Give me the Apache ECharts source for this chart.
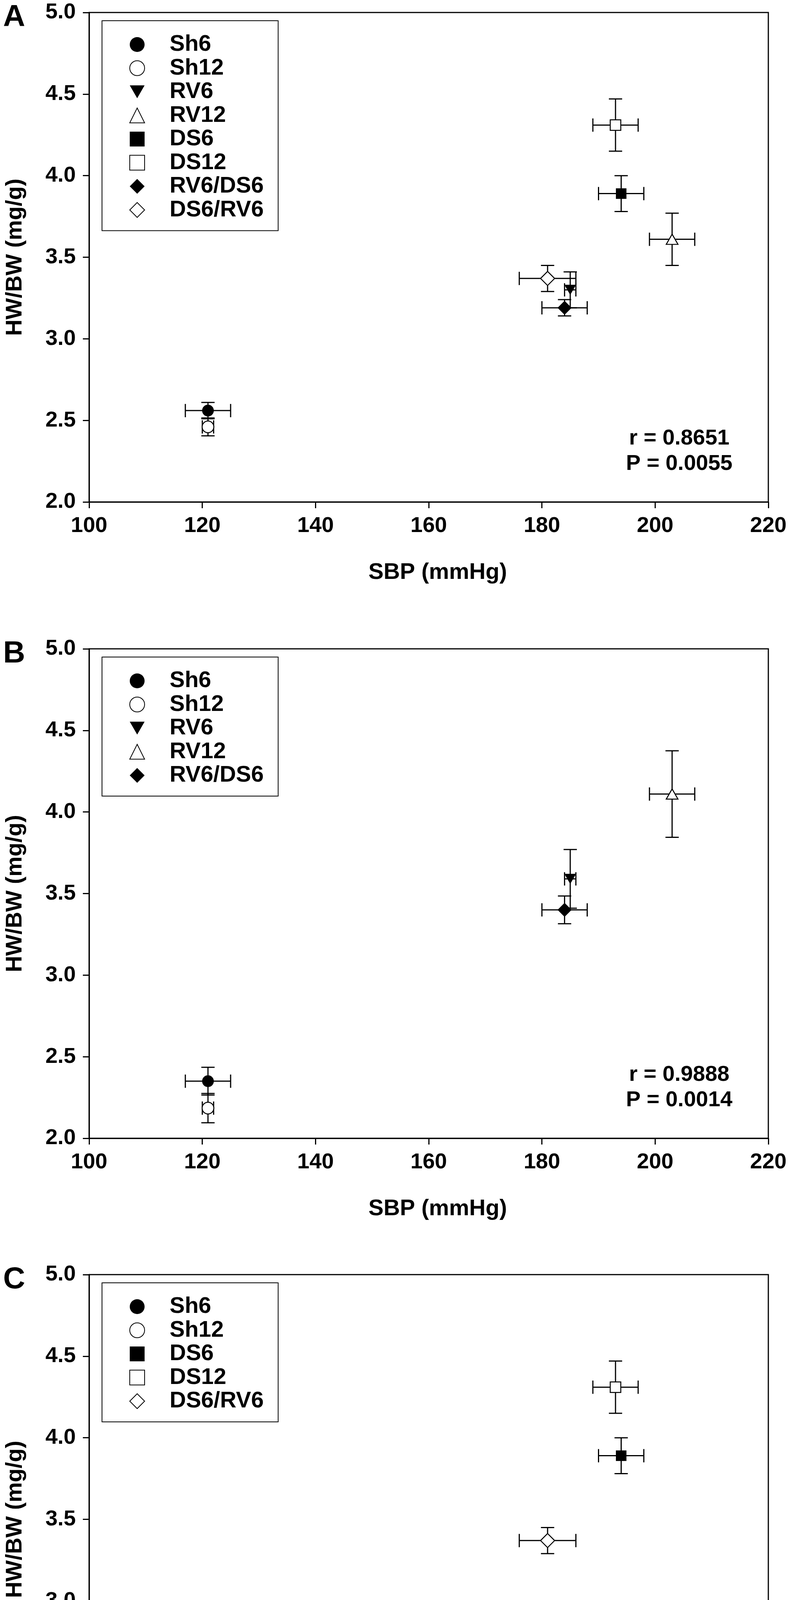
<!DOCTYPE html>
<html>
<head>
<meta charset="utf-8">
<script src="https://cdn.jsdelivr.net/npm/echarts@6/dist/echarts.min.js"></script>
<style>
  html, body { margin: 0; padding: 0; background: #fff; }
  #chart { width: 2024px; height: 4741px; }
</style>
</head>
<body>
<div id="chart"></div>
<script>
// groups shown in each panel
var panelA_groups = ['Sh6', 'Sh12', 'RV6', 'RV12', 'DS6', 'DS12', 'RV6/DS6', 'DS6/RV6'];
var panelA_sbp     = [121, 121, 185, 203, 194, 193, 184, 181];
var panelA_sbpErr  = [4, 1, 1, 4, 4, 4, 4, 5];
var panelA_hwbw    = [2.56, 2.46, 3.30, 3.61, 3.89, 4.31, 3.19, 3.37];
var panelA_hwbwErr = [0.05, 0.055, 0.11, 0.16, 0.11, 0.16, 0.05, 0.08];

var panelB_groups = ['Sh6', 'Sh12', 'RV6', 'RV12', 'RV6/DS6'];
var panelB_sbp     = [121, 121, 185, 203, 184];
var panelB_sbpErr  = [4, 1, 1, 4, 4];
var panelB_hwbw    = [2.35, 2.185, 3.59, 4.11, 3.40];
var panelB_hwbwErr = [0.085, 0.09, 0.18, 0.265, 0.085];

var panelC_groups = ['Sh6', 'Sh12', 'DS6', 'DS12', 'DS6/RV6'];
var panelC_sbp     = [121, 121, 194, 193, 181];
var panelC_sbpErr  = [4, 1, 4, 4, 5];
var panelC_hwbw    = [2.56, 2.46, 3.89, 4.31, 3.37];
var panelC_hwbwErr = [0.05, 0.055, 0.11, 0.16, 0.08];

var panelLetters = ['A', 'B', 'C'];
var statR = ['0.8651', '0.9888', '0.9460'];
var statP = ['0.0055', '0.0014', '0.0148'];

var xTicks = [100, 120, 140, 160, 180, 200, 220];
var yTicks = [2.0, 2.5, 3.0, 3.5, 4.0, 4.5, 5.0];

var FONT = "'Liberation Sans', Arial, sans-serif";
var DOWN_TRIANGLE = 'path://M0,0L30,0L15,26Z';

// marker look per group
var markerStyle = {
	'Sh6':     { symbol: 'circle',      size: 30,       open: false },
	'Sh12':    { symbol: 'circle',      size: 30,       open: true },
	'RV6':     { symbol: DOWN_TRIANGLE, size: [30, 26], open: false },
	'RV12':    { symbol: 'triangle',    size: [30, 26], open: true },
	'DS6':     { symbol: 'rect',        size: 27,       open: false },
	'DS12':    { symbol: 'rect',        size: 27,       open: true },
	'RV6/DS6': { symbol: 'diamond',     size: 36,       open: false },
	'DS6/RV6': { symbol: 'diamond',     size: 36,       open: true }
};

var panels = [
	{ groups: panelA_groups, sbp: panelA_sbp, sbpErr: panelA_sbpErr, hwbw: panelA_hwbw, hwbwErr: panelA_hwbwErr, top: 32 },
	{ groups: panelB_groups, sbp: panelB_sbp, sbpErr: panelB_sbpErr, hwbw: panelB_hwbw, hwbwErr: panelB_hwbwErr, top: 1661 },
	{ groups: panelC_groups, sbp: panelC_sbp, sbpErr: panelC_sbpErr, hwbw: panelC_hwbw, hwbwErr: panelC_hwbwErr, top: 3263 }
];

var gridLeft = 228, gridWidth = 1738, gridHeight = 1253;

function renderErrorBar(params, api) {
	var x = api.value(0), xe = api.value(1), y = api.value(2), ye = api.value(3);
	var l = api.coord([x - xe, y]), r = api.coord([x + xe, y]);
	var t = api.coord([x, y + ye]), b = api.coord([x, y - ye]);
	var cap = 17;
	var st = { stroke: '#000', lineWidth: 3 };
	function seg(x1, y1, x2, y2) {
		return { type: 'line', shape: { x1: x1, y1: y1, x2: x2, y2: y2 }, style: st };
	}
	return {
		type: 'group',
		children: [
			seg(l[0], l[1], r[0], r[1]),
			seg(t[0], t[1], b[0], b[1]),
			seg(l[0], l[1] - cap, l[0], l[1] + cap),
			seg(r[0], r[1] - cap, r[0], r[1] + cap),
			seg(t[0] - cap, t[1], t[0] + cap, t[1]),
			seg(b[0] - cap, b[1], b[0] + cap, b[1])
		]
	};
}

var grids = [], xAxes = [], yAxes = [], series = [], legends = [], graphics = [];

panels.forEach(function(p, i) {
	grids.push({
		left: gridLeft, top: p.top, width: gridWidth, height: gridHeight,
		show: true, borderColor: '#000', borderWidth: 3, backgroundColor: 'transparent'
	});
	xAxes.push({
		gridIndex: i, type: 'value', min: xTicks[0], max: xTicks[xTicks.length - 1], interval: 20,
		name: 'SBP (mmHg)', nameLocation: 'middle', nameGap: 152,
		nameTextStyle: { fontFamily: FONT, fontWeight: 'bold', fontSize: 58, color: '#000', padding: [0, 0, 0, 46] },
		axisLine: { lineStyle: { color: '#000', width: 3 } },
		axisTick: { length: 16, lineStyle: { color: '#000', width: 3 } },
		axisLabel: { margin: 34, fontFamily: FONT, fontWeight: 'bold', fontSize: 56, color: '#000' },
		splitLine: { show: false }
	});
	yAxes.push({
		gridIndex: i, type: 'value', min: yTicks[0], max: yTicks[yTicks.length - 1], interval: 0.5,
		name: 'HW/BW (mg/g)', nameLocation: 'middle', nameGap: 160,
		nameTextStyle: { fontFamily: FONT, fontWeight: 'bold', fontSize: 58, color: '#000' },
		axisLine: { lineStyle: { color: '#000', width: 3 } },
		axisTick: { length: 16, lineStyle: { color: '#000', width: 3 } },
		axisLabel: {
			margin: 34, fontFamily: FONT, fontWeight: 'bold', fontSize: 56, color: '#000',
			formatter: function(v) { return v.toFixed(1); }
		},
		splitLine: { show: false }
	});

	// error bars
	var errData = p.groups.map(function(g, k) {
		return [p.sbp[k], p.sbpErr[k], p.hwbw[k], p.hwbwErr[k]];
	});
	series.push({
		type: 'custom', xAxisIndex: i, yAxisIndex: i, z: 2,
		renderItem: renderErrorBar, encode: { x: 0, y: 2 },
		data: errData, silent: true
	});

	// one scatter series per group so the legend shows it
	p.groups.forEach(function(g, k) {
		var m = markerStyle[g];
		series.push({
			name: g, type: 'scatter', xAxisIndex: i, yAxisIndex: i, z: 3,
			symbol: m.symbol, symbolSize: m.size,
			itemStyle: m.open
				? { color: '#fff', borderColor: '#000', borderWidth: 2.5, opacity: 1 }
				: { color: '#000', borderColor: '#000', borderWidth: 0, opacity: 1 },
			data: [[p.sbp[k], p.hwbw[k]]],
			silent: true
		});
	});

	legends.push({
		data: p.groups.map(function(g) {
			return g === 'RV6' ? { name: g, icon: DOWN_TRIANGLE } : { name: g };
		}),
		orient: 'vertical', left: 261, top: p.top + 21,
		selectedMode: false, borderColor: '#000', borderWidth: 2,
		padding: [31, 37, 23, 70], itemGap: 0.5, itemWidth: 38, itemHeight: 38,
		textStyle: { fontFamily: FONT, fontWeight: 'bold', fontSize: 58, color: '#000', lineHeight: 60, padding: [0, 0, 0, 59] }
	});

	var bottom = p.top + gridHeight;
	graphics.push({
		type: 'text', left: 8, top: p.top - 26,
		style: { text: panelLetters[i], font: 'bold 78px ' + FONT, fill: '#000' }
	});
	graphics.push({
		type: 'text', x: 1738, y: bottom - 162,
		style: { text: 'r = ' + statR[i], font: 'bold 56px ' + FONT, fill: '#000', textAlign: 'center', textVerticalAlign: 'middle' }
	});
	graphics.push({
		type: 'text', x: 1738, y: bottom - 97,
		style: { text: 'P = ' + statP[i], font: 'bold 56px ' + FONT, fill: '#000', textAlign: 'center', textVerticalAlign: 'middle' }
	});
});

var myChart = echarts.init(document.getElementById('chart'), null, { renderer: 'canvas' });
myChart.setOption({
	animation: false,
	backgroundColor: '#fff',
	grid: grids,
	xAxis: xAxes,
	yAxis: yAxes,
	legend: legends,
	series: series,
	graphic: graphics
});
</script>
</body>
</html>
